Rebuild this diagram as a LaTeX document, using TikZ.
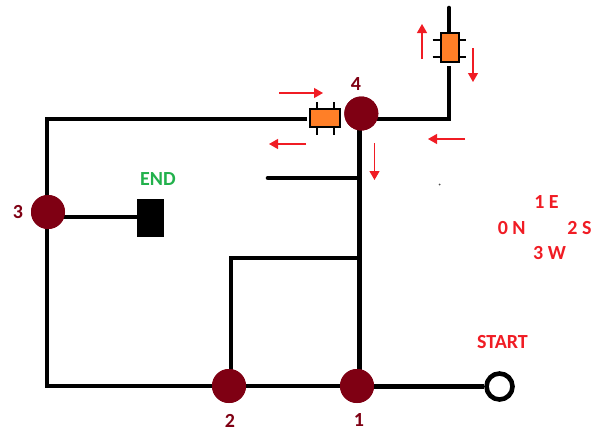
\documentclass[tikz,border=0pt]{standalone}
\usepackage{fontspec}
\setmainfont{Carlito}
\usetikzlibrary{arrows.meta}
\definecolor{maroonc}{HTML}{7F0013}
\definecolor{orangec}{HTML}{FF7F27}
\definecolor{redc}{HTML}{F01C24}
\definecolor{greenc}{HTML}{22B14C}
\tikzset{
  wire/.style={line width=4.6pt,black},
  stub/.style={line width=2pt,black},
  joint/.style={circle,fill=maroonc,draw=none,minimum size=34pt,inner sep=0pt},
  lab/.style={font=\bfseries\fontsize{20}{20}\selectfont,inner sep=0pt},
  redlab/.style={lab,text=redc},
  marlab/.style={lab,text=maroonc},
  dirarrow/.style={draw=redc,line width=1.2pt,-{Triangle[length=9pt,width=10pt,fill=redc]}},
  gate/.style={draw=black,line width=2pt,fill=orangec,inner sep=0pt}
}
\begin{document}
\begin{tikzpicture}[x=1pt,y=-1pt]
\useasboundingbox (0,0) rectangle (593,431);
\coordinate (tl) at (47,119);
\coordinate (bl) at (47,386);
\coordinate (tr) at (449,119);
\coordinate (top) at (449,8);
\coordinate (gtop) at (449,34);
\coordinate (gbot) at (449,66);
\coordinate (gleft) at (307,119);
\coordinate (stubl) at (268,178);
\coordinate (stubr) at (359.5,178);
\coordinate (brl) at (231,258);
\coordinate (brr) at (359.5,258);
\coordinate (bot1) at (359.5,386);
\coordinate (bot2) at (231,386);
\coordinate (top4) at (359.5,119);
\coordinate (e3) at (48,217);
\coordinate (s1) at (357,386.5);
% wires
\draw[wire,line cap=round] (top) -- (gtop);
\draw[wire,line join=miter] (gbot) -- (tr) -- (top4);
\draw[wire,line join=miter] (gleft) -- (tl) -- (bl) -- (bot2);
\draw[wire] (top4) -- (bot1);
\draw[wire,line cap=round] (stubl) -- (stubr);
\draw[wire,line join=miter] (brr) -- (brl) -- (bot2);
% start, end
\node[circle,draw=black,line width=4.6pt,fill=white,minimum size=26pt,inner sep=0pt] (start) at (499.5,386.5) {};
\node[fill=black,minimum width=27.5pt,minimum height=38pt,inner sep=0pt] (endb) at (150.5,218.3) {};
\node[joint] (n1) at (357,386) {};
\node[joint] (n2) at (229,386) {};
\node[joint] (n3) at (48,212) {};
\node[joint] (n4) at (361.3,113.5) {};
\draw[wire] (s1) -- (start.west |- s1);
\draw[wire] (n2) -- (n1);
\draw[wire] (e3) -- (endb.west |- e3);
\node[joint] at (n1) {};
\node[joint] at (n2) {};
\node[joint] at (n3) {};
\node[joint] at (n4) {};
% horizontal component
\draw[stub] (316.7,102) -- (316.7,135) (333.5,102) -- (333.5,135);
\node[gate,minimum width=29.5pt,minimum height=18pt] (g1) at (325,118) {};
% vertical component
\draw[stub] (432.5,40) -- (466,40) (432.5,56.5) -- (466,56.5);
\node[gate,minimum width=18pt,minimum height=29.5pt] (g2) at (449.5,47.5) {};
% arrows
\draw[dirarrow] (279,93) -- (323,93);
\draw[dirarrow] (306,144) -- (269,144);
\draw[dirarrow] (374.5,143) -- (374.5,180);
\draw[dirarrow] (465,139) -- (428,139);
\draw[dirarrow] (422,59) -- (422,24);
\draw[dirarrow] (473,48) -- (473,82);
\fill[black!70] (439.5,184.5) circle (1pt);
% labels
\node[marlab] (l4) at (356,84) {4};
\node[marlab] (l3) at (18,212) {3};
\node[marlab] (l1) at (359,420) {1};
\node[marlab] (l2) at (230,421) {2};
\node[lab,text=greenc] (lend) at (158,179) {END};
\node[redlab] (lstart) at (502.5,341.7) {START};
\node[redlab] (d1) at (546.5,202.5) {1 E};
\node[redlab] (d0) at (511.7,228) {0 N};
\node[redlab] (d2) at (579.5,228) {2 S};
\node[redlab] (d3) at (549.5,253) {3 W};
\end{tikzpicture}
\end{document}
